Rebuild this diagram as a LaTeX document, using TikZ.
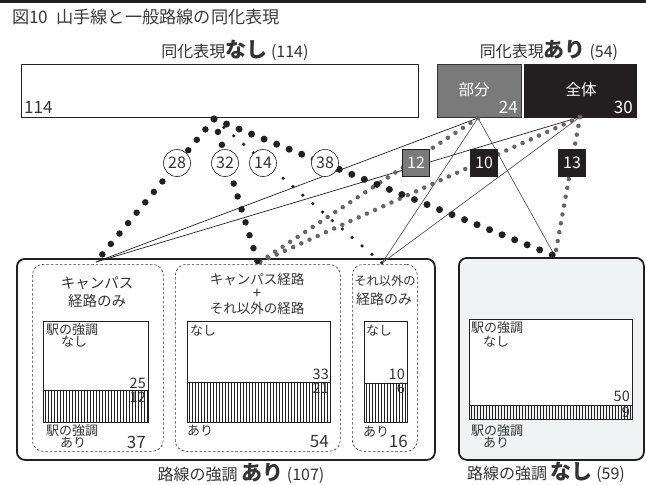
\documentclass[tikz,border=0pt]{standalone}
\usepackage{fontspec}
\setmainfont{Noto Sans CJK JP}
\usetikzlibrary{patterns}
\definecolor{ink}{HTML}{231F20}
\definecolor{txt}{HTML}{333333}
\definecolor{ttl}{HTML}{3A3A3A}
\definecolor{partg}{HTML}{7A7A7A}
\definecolor{dotg}{HTML}{666666}
\definecolor{thing}{HTML}{555555}
\definecolor{panel}{HTML}{F1F2F4}
\newcommand\myfs[1]{\fontsize{#1pt}{#1pt}\selectfont}
\tikzset{
  t/.style={inner sep=0pt, text=txt},
  topbox/.style={draw=ink, line width=1.4pt, anchor=north west, inner sep=0pt},
  bigbox/.style={draw=ink, line width=1.8pt, rounded corners=8pt, anchor=north west, inner sep=0pt},
  dbox/.style={draw=txt, line width=0.6pt, dash pattern=on 2.5pt off 2pt, rounded corners=11pt, anchor=north west, inner sep=0pt},
  chartw/.style={draw=ink, line width=0.9pt, fill=white, anchor=north west, inner sep=0pt},
  charth/.style={draw=ink, line width=0.9pt, pattern=vertical lines, pattern color=ink, anchor=north west, inner sep=0pt},
  thinblack/.style={draw=ink, line width=0.7pt},
  thingray/.style={draw=thing, line width=0.7pt},
  bigdots/.style={draw=ink, line width=6.5pt, line cap=round, dash pattern=on 0pt off 13.5pt},
  smalldots/.style={draw=ink, line width=3.6pt, line cap=round, dash pattern=on 0pt off 13pt},
  graydots/.style={draw=dotg, line width=4.5pt, line cap=round, dash pattern=on 0pt off 9pt},
  circlab/.style={circle, draw=ink, line width=0.6pt, fill=white, minimum size=27pt, inner sep=0pt, text=txt, font=\myfs{16}},
  sqlab/.style={draw=ink, line width=1pt, minimum size=27pt, inner sep=0pt, text=white, font=\myfs{16}},
}
\begin{document}
\begin{tikzpicture}[x=1pt,y=-1pt]
\useasboundingbox (0,0) rectangle (646,485);
\fill[ink] (0,0) rectangle (646,3.2);
\node[t, text=ttl, anchor=west] (title) at (12,17) {\myfs{17.2}図10\hspace{0.45em}山手線と一般路線の同化表現};

% top labels
\node[t] (hdrN) at (235,50) {\myfs{16}同化表現{\bfseries\myfs{21}なし} (114)};
\node[t] (hdrA) at (549,50) {\myfs{16}同化表現{\bfseries\myfs{21}あり} (54)};

% top boxes
\node[topbox, minimum width=397pt, minimum height=53pt] (nashi) at (21,64) {};
\node[t, anchor=base west] (n114) at (24,113) {\myfs{17}114};
\node[topbox, draw=txt, fill=partg, minimum width=84pt, minimum height=53pt] (bubun) at (437,64) {};
\node[t, text=white] (bubunT) at (474,90) {\myfs{15.5}部分};
\node[t, text=white, anchor=base east] (bubunN) at (518,113) {\myfs{17}24};
\node[topbox, fill=ink, minimum width=112pt, minimum height=53pt] (zentai) at (524,64) {};
\node[t, text=white] (zentaiT) at (581,90) {\myfs{15.5}全体};
\node[t, text=white, anchor=base east] (zentaiN) at (633,113) {\myfs{17}30};

% bottom big boxes
\node[bigbox, minimum width=418pt, minimum height=201pt] (ariBox) at (16,258) {};
\node[bigbox, fill=panel, minimum width=185pt, minimum height=202pt] (nashiBox) at (458,257) {};
\node[t] (ariLab) at (241,473) {\myfs{16}路線の強調 {\bfseries\myfs{21}あり} (107)};
\node[t] (nashiLab) at (546,472) {\myfs{16}路線の強調 {\bfseries\myfs{21}なし} (59)};

% dashed groups
\node[dbox, minimum width=131pt, minimum height=187pt] (g1) at (32,264) {};
\node[dbox, minimum width=165pt, minimum height=187pt] (g2) at (175,264) {};
\node[dbox, minimum width=65pt, minimum height=187pt] (g3) at (352,264) {};

% group 1
\node[t] (g1a) at (97,283) {\myfs{14.5}キャンパス};
\node[t] (g1b) at (97,301) {\myfs{14.5}経路のみ};
\node[chartw, minimum width=105pt, minimum height=69pt] (c1n) at (43,321) {};
\node[charth, minimum width=105pt, minimum height=32pt] (c1a) at (43,390) {};
\node[t, anchor=west] (c1t1) at (46,330) {\myfs{13}駅の強調};
\node[t] (c1t2) at (74,342) {\myfs{13}なし};
\node[t, anchor=east] (c1v1) at (146,383) {\myfs{14.5}25};
\node[t, anchor=east] (c1v2) at (146,397) {\myfs{14.5}12};
\node[t, anchor=west] (c1t3) at (46,431) {\myfs{13}駅の強調};
\node[t] (c1t4) at (73,443) {\myfs{13}あり};
\node[t, anchor=east] (c1tot) at (146,442) {\myfs{17}37};

% group 2
\node[t] (g2a) at (257,279) {\myfs{13.5}キャンパス経路};
\node[t] (g2b) at (257,294) {\myfs{15}+};
\node[t] (g2c) at (257,308) {\myfs{13.5}それ以外の経路};
\node[chartw, minimum width=143pt, minimum height=61pt] (c2n) at (187,321) {};
\node[charth, minimum width=143pt, minimum height=40pt] (c2a) at (187,382) {};
\node[t] (c2t1) at (203,331) {\myfs{13}なし};
\node[t, anchor=east] (c2v1) at (329,374) {\myfs{14.5}33};
\node[t, anchor=east] (c2v2) at (329,388) {\myfs{14.5}21};
\node[t] (c2t2) at (200,431) {\myfs{13}あり};
\node[t, anchor=east] (c2tot) at (329,442) {\myfs{17}54};

% group 3
\node[t] (g3a) at (385,281) {\myfs{12.3}それ以外の};
\node[t] (g3b) at (384,299) {\myfs{14}経路のみ};
\node[chartw, minimum width=43pt, minimum height=62pt] (c3n) at (364,321) {};
\node[charth, minimum width=43pt, minimum height=39pt] (c3a) at (364,383) {};
\node[t] (c3t1) at (379,331) {\myfs{13}なし};
\node[t, anchor=east] (c3v1) at (405,374) {\myfs{14.5}10};
\node[t, anchor=east] (c3v2) at (405,388) {\myfs{14.5}6};
\node[t] (c3t2) at (376,432) {\myfs{13}あり};
\node[t, anchor=east] (c3tot) at (408,441) {\myfs{17}16};

% right panel chart
\node[chartw, minimum width=163pt, minimum height=86pt] (c4n) at (469,319) {};
\node[charth, minimum width=163pt, minimum height=14pt] (c4a) at (469,405) {};
\node[t, anchor=west] (c4t1) at (471,328) {\myfs{13}駅の強調};
\node[t] (c4t2) at (496,342) {\myfs{13}なし};
\node[t, anchor=east] (c4v1) at (630,396) {\myfs{14.5}50};
\node[t, anchor=east] (c4v2) at (630,412) {\myfs{14.5}9};
\node[t, anchor=west] (c4t3) at (471,431) {\myfs{13}駅の強調};
\node[t] (c4t4) at (496,443) {\myfs{13}あり};

% connector ends
\coordinate (oN) at (214,119);
\coordinate (oB) at (478,118);
\coordinate (oZ) at (580,117);
\coordinate (t1) at (96,262);
\coordinate (t2) at (258,263);
\coordinate (t3) at (382,263);
\coordinate (t4) at (555,256);

% thin lines
\draw[thinblack] (oB) -- (t1);
\draw[thinblack] (oZ) -- (t1);
\draw[thingray] (oB) -- (t3);
\draw[thingray] (oB) -- (t4);
\draw[thingray] (oZ) -- (t3);
% gray dotted
\draw[graydots] (oB) -- (t2);
\draw[graydots] (oZ) -- (t2);
\draw[graydots] (oZ) -- (t4);
% black dotted
\draw[bigdots] (oN) -- (t1);
\draw[bigdots] (oN) -- (t2);
\draw[smalldots] (oN) -- (t3);
\draw[bigdots, line width=7pt] (oN) -- (t4);

% labels
\node[circlab] (l28) at (177,163) {28};
\node[circlab] (l32) at (225,163) {32};
\node[circlab] (l14) at (263,163) {14};
\node[circlab] (l38) at (325,163) {38};
\node[sqlab, fill=partg] (l12) at (416,163) {12};
\node[sqlab, fill=ink] (l10) at (484,163) {10};
\node[sqlab, fill=ink] (l13) at (572,163) {13};
\end{tikzpicture}
\end{document}
